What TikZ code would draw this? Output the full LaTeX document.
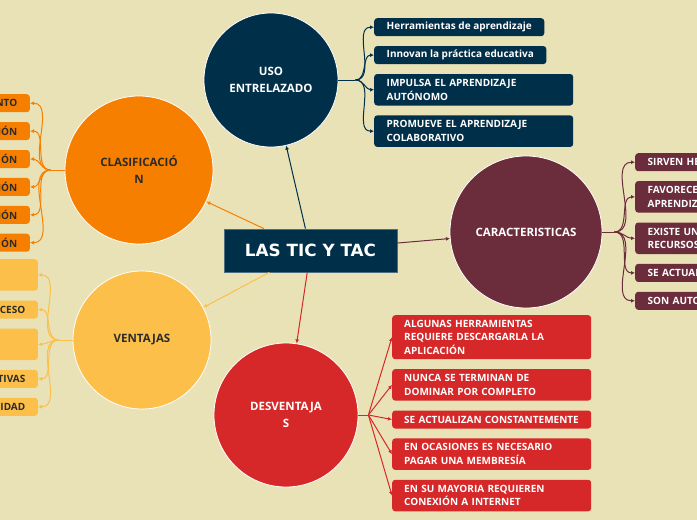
\documentclass[tikz,border=0pt]{standalone}
\usepackage{fontspec}
\setmainfont{Open Sans}
\newfontfamily\rootfont{DejaVu Sans}
\usepackage{tikz}
\usetikzlibrary{arrows.meta,positioning}
\definecolor{bgcream}{HTML}{EAE2B7}
\definecolor{navy}{HTML}{003049}
\definecolor{ticred}{HTML}{D62828}
\definecolor{ticorange}{HTML}{F77F00}
\definecolor{ticyellow}{HTML}{FCBF49}
\definecolor{maroon}{HTML}{6B2C3C}
\definecolor{inkdark}{HTML}{2B2B2B}

\begin{document}
\begin{tikzpicture}[
    x=1pt, y=-1pt,
    node distance=9.5pt,
    topic/.style={circle, draw=white, line width=0.8pt, inner sep=0pt,
                  minimum size=#1, align=center,
                  font=\bfseries\fontsize{11.5}{17}\selectfont},
    root/.style={rectangle, fill=navy, draw=navy!70!white, line width=0.8pt,
                 minimum width=173pt, minimum height=43pt, text=white,
                 font=\rootfont\bfseries\fontsize{16.8}{20}\selectfont},
    leaf/.style={rectangle, rounded corners=3pt, inner xsep=12.5pt, inner ysep=2pt,
                 minimum height=18pt, align=left,
                 font=\bfseries\fontsize{10}{13.5}\selectfont},
    two/.style={minimum height=31.5pt},
    three/.style={minimum height=44pt},
    line/.style={line width=1pt},
    arrow/.style={-{Latex[length=4pt,width=4pt]}, line width=1pt}
]
\path[fill=bgcream, use as bounding box] (0,0) rectangle (697,520);
\clip (0,0) rectangle (697,520);

% main topics
\node[root] (tic) at (310.5,250.5) {LAS TIC Y TAC};
\node[topic=134pt, fill=navy, text=white]          (uso)  at (271,80)  {USO\\ENTRELAZADO};
\node[topic=148pt, fill=ticorange, text=inkdark]   (clas) at (139,170) {CLASIFICACIÓ\\N};
\node[topic=138pt, fill=ticyellow, text=inkdark]   (vent) at (142,340) {VENTAJAS};
\node[topic=152pt, fill=maroon, text=white]        (car)  at (526,232) {CARACTERISTICAS};
\node[topic=144pt, fill=ticred, text=white]        (desv) at (286,415) {DESVENTAJA\\S};

% uso entrelazado
\node[leaf, fill=navy, text=white, anchor=north west] (u1) at (374,18) {Herramientas de aprendizaje};
\node[leaf, fill=navy, text=white, below=of u1.south west, anchor=north west] (u2) {Innovan la práctica educativa};
\node[leaf, two, fill=navy, text=white, text width=174pt, below=of u2.south west, anchor=north west] (u3) {IMPULSA EL APRENDIZAJE\\AUTÓNOMO};
\node[leaf, two, fill=navy, text=white, text width=174pt, below=of u3.south west, anchor=north west] (u4) {PROMUEVE EL APRENDIZAJE\\COLABORATIVO};

% clasificacion
\node[leaf, fill=ticorange, text=inkdark, text width=130pt, align=right, anchor=north east] (c1) at (30,94) {NTO};
\node[leaf, fill=ticorange, text=inkdark, text width=130pt, align=right, below=of c1.south east, anchor=north east] (c2) {IÓN};
\node[leaf, fill=ticorange, text=inkdark, text width=130pt, align=right, below=of c2.south east, anchor=north east] (c3) {ÓN};
\node[leaf, fill=ticorange, text=inkdark, text width=130pt, align=right, below=of c3.south east, anchor=north east] (c4) {IÓN};
\node[leaf, fill=ticorange, text=inkdark, text width=130pt, align=right, below=of c4.south east, anchor=north east] (c5) {IÓN};
\node[leaf, fill=ticorange, text=inkdark, text width=130pt, align=right, below=of c5.south east, anchor=north east] (c6) {ÓN};

% ventajas
\node[leaf, two, fill=ticyellow, text=inkdark, text width=130pt, align=right, anchor=north east] (v1) at (38,259) {};
\node[leaf, fill=ticyellow, text=inkdark, text width=130pt, align=right, below=of v1.south east, anchor=north east] (v2) {CESO};
\node[leaf, two, fill=ticyellow, text=inkdark, text width=130pt, align=right, below=of v2.south east, anchor=north east] (v3) {};
\node[leaf, fill=ticyellow, text=inkdark, text width=130pt, align=right, below=of v3.south east, anchor=north east] (v4) {TIVAS};
\node[leaf, fill=ticyellow, text=inkdark, text width=130pt, align=right, below=of v4.south east, anchor=north east] (v5) {IDAD};

% caracteristicas
\node[leaf, fill=maroon, text=white, text width=150pt, anchor=north west] (k1) at (635,153) {SIRVEN HE};
\node[leaf, two, fill=maroon, text=white, text width=150pt, below=of k1.south west, anchor=north west] (k2) {FAVORECE\\APRENDIZ};
\node[leaf, two, fill=maroon, text=white, text width=150pt, below=of k2.south west, anchor=north west] (k3) {EXISTE UN\\RECURSOS};
\node[leaf, fill=maroon, text=white, text width=150pt, below=of k3.south west, anchor=north west] (k4) {SE ACTUAL};
\node[leaf, fill=maroon, text=white, text width=150pt, below=of k4.south west, anchor=north west] (k5) {SON AUTO};

% desventajas
\node[leaf, three, fill=ticred, text=white, inner xsep=12pt, text width=175pt, anchor=north west] (d1) at (392,315) {ALGUNAS HERRAMIENTAS\\REQUIERE DESCARGARLA LA\\APLICACIÓN};
\node[leaf, two, fill=ticred, text=white, inner xsep=12pt, text width=175pt, below=of d1.south west, anchor=north west] (d2) {NUNCA SE TERMINAN DE\\DOMINAR POR COMPLETO};
\node[leaf, fill=ticred, text=white, inner xsep=12pt, text width=175pt, below=of d2.south west, anchor=north west] (d3) {\mbox{SE ACTUALIZAN CONSTANTEMENTE}};
\node[leaf, two, fill=ticred, text=white, inner xsep=12pt, text width=175pt, below=of d3.south west, anchor=north west] (d4) {EN OCASIONES ES NECESARIO\\PAGAR UNA MEMBRESÍA};
\node[leaf, two, fill=ticred, text=white, inner xsep=12pt, text width=175pt, below=of d4.south west, anchor=north west] (d5) {EN SU MAYORIA REQUIEREN\\CONEXIÓN A INTERNET};

% split points
\coordinate[right=17pt of uso.east]  (usosplit);
\coordinate[left=14pt of clas.west]  (classplit);
\coordinate[left=14pt of vent.west]  (ventsplit);
\coordinate[right=12pt of car.east]  (carsplit);
\coordinate[right=10pt of desv.east] (desvsplit);

% root to topics
\draw[arrow, navy]      (tic) -- (uso);
\draw[arrow, ticorange] (tic) -- (clas);
\draw[arrow, ticyellow] (tic) -- (vent);
\draw[arrow, maroon]    (tic) -- (car);
\draw[arrow, ticred]    (tic) -- (desv);

% topics to leaves
\draw[line, navy] (uso.east) -- (usosplit);
\draw[arrow, navy] (usosplit) to[out=0,in=180] (u1.west);
\draw[arrow, navy] (usosplit) to[out=0,in=180] (u2.west);
\draw[arrow, navy] (usosplit) to[out=0,in=180] (u3.west);
\draw[arrow, navy] (usosplit) to[out=0,in=180] (u4.west);

\draw[line, ticorange] (clas.west) -- (classplit);
\draw[arrow, ticorange] (classplit) to[out=180,in=0] (c1.east);
\draw[arrow, ticorange] (classplit) to[out=180,in=0] (c2.east);
\draw[arrow, ticorange] (classplit) to[out=180,in=0] (c3.east);
\draw[arrow, ticorange] (classplit) to[out=180,in=0] (c4.east);
\draw[arrow, ticorange] (classplit) to[out=180,in=0] (c5.east);
\draw[arrow, ticorange] (classplit) to[out=180,in=0] (c6.east);

\draw[line, ticyellow] (vent.west) -- (ventsplit);
\draw[arrow, ticyellow] (ventsplit) to[out=180,in=0] (v1.east);
\draw[arrow, ticyellow] (ventsplit) to[out=180,in=0] (v2.east);
\draw[arrow, ticyellow] (ventsplit) to[out=180,in=0] (v3.east);
\draw[arrow, ticyellow] (ventsplit) to[out=180,in=0] (v4.east);
\draw[arrow, ticyellow] (ventsplit) to[out=180,in=0] (v5.east);

\draw[line, maroon] (car.east) -- (carsplit);
\draw[arrow, maroon] (carsplit) to[out=0,in=180] (k1.west);
\draw[arrow, maroon] (carsplit) to[out=0,in=180] (k2.west);
\draw[arrow, maroon] (carsplit) to[out=0,in=180] (k3.west);
\draw[arrow, maroon] (carsplit) to[out=0,in=180] (k4.west);
\draw[arrow, maroon] (carsplit) to[out=0,in=180] (k5.west);

\draw[line, ticred] (desv.east) -- (desvsplit);
\draw[arrow, ticred] (desvsplit) -- (d1.west);
\draw[arrow, ticred] (desvsplit) -- (d2.west);
\draw[arrow, ticred] (desvsplit) -- (d3.west);
\draw[arrow, ticred] (desvsplit) -- (d4.west);
\draw[arrow, ticred] (desvsplit) -- (d5.west);
\end{tikzpicture}
\end{document}
